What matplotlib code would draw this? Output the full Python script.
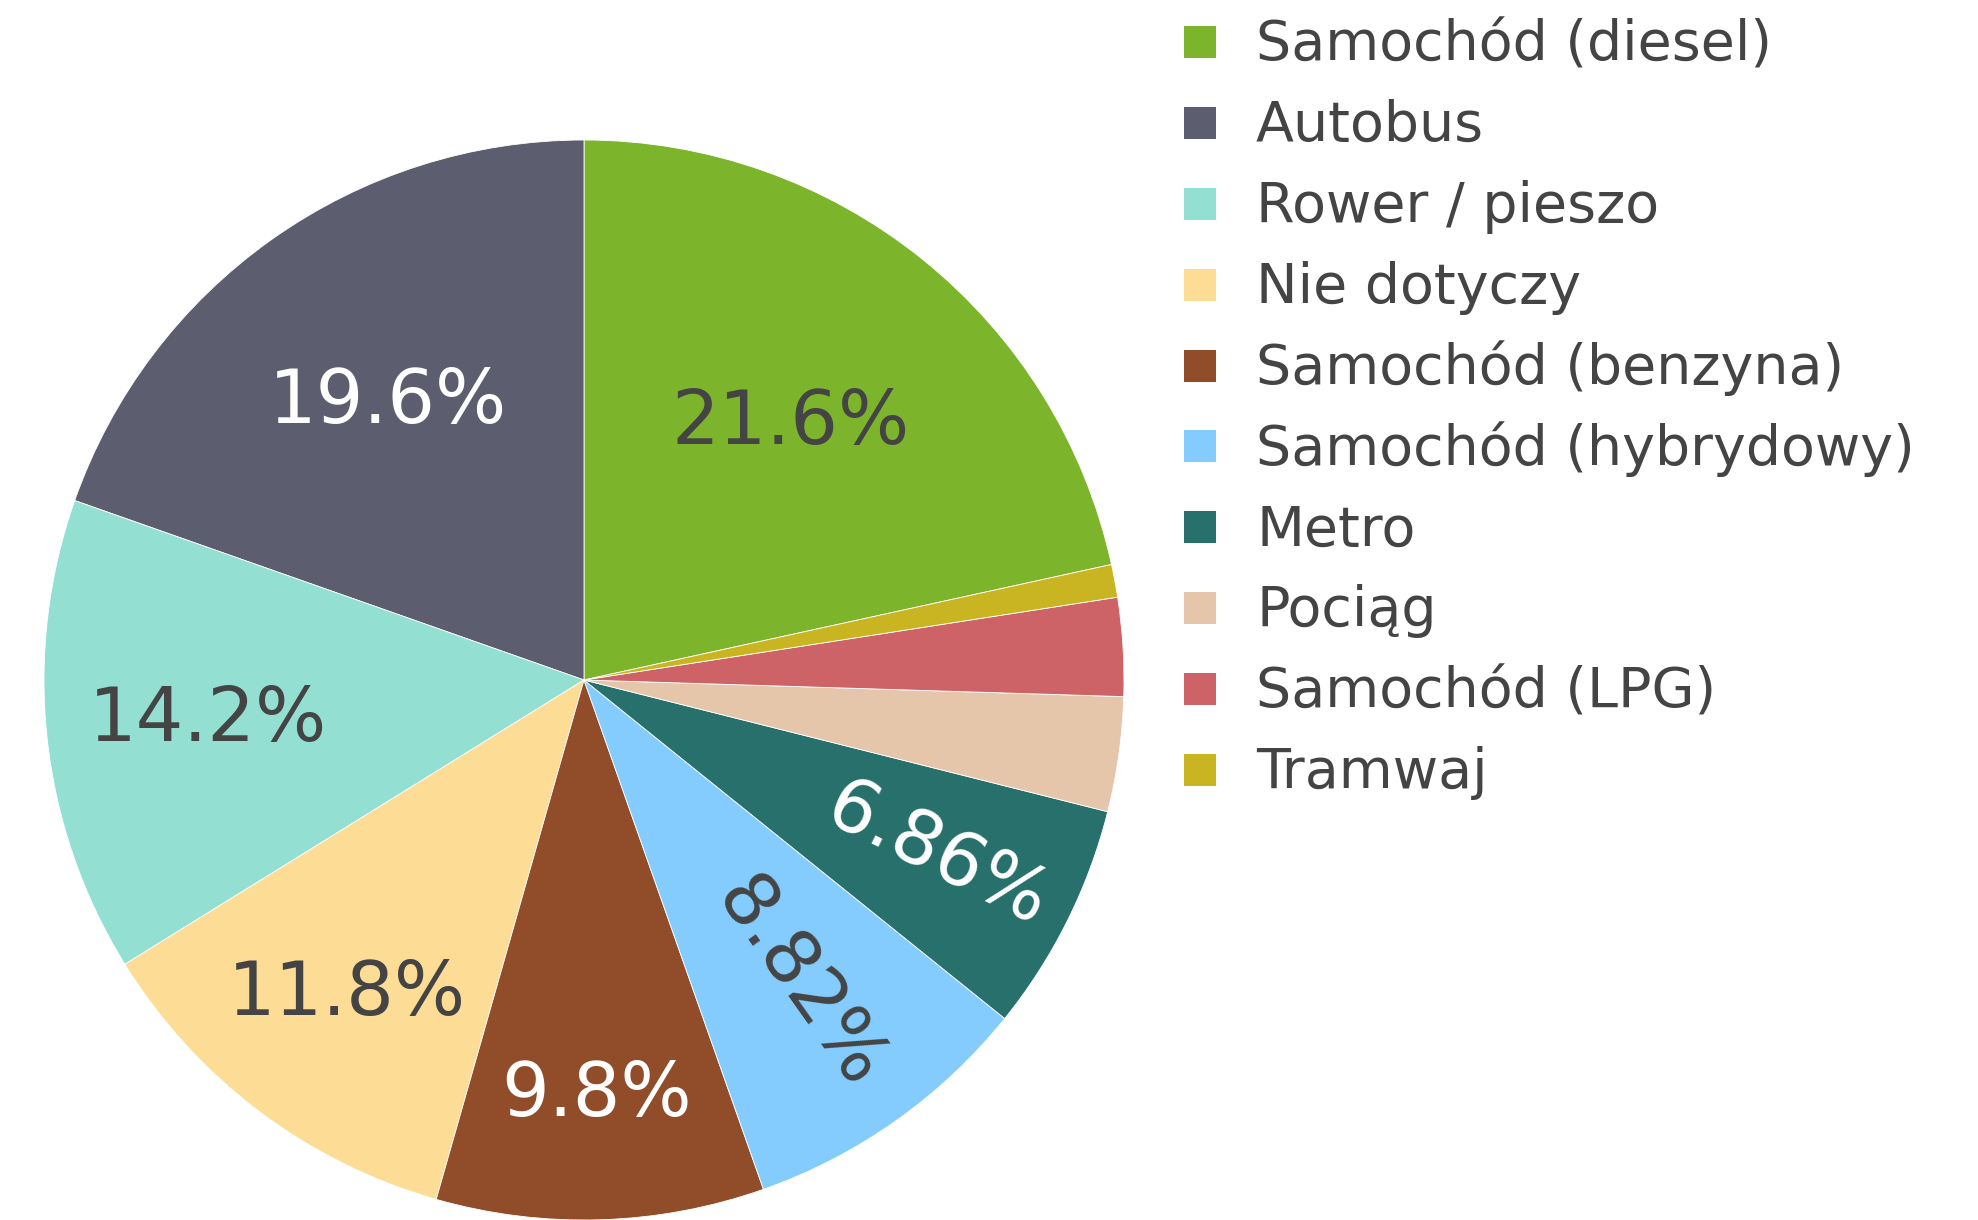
import matplotlib
matplotlib.use("Agg")
import matplotlib.pyplot as plt
from matplotlib.patches import Rectangle
import numpy as np

# survey answers (counts), in legend order
labels = ["Samochód (diesel)", "Autobus", "Rower / pieszo", "Nie dotyczy",
          "Samochód (benzyna)", "Samochód (hybrydowy)", "Metro", "Pociąg",
          "Samochód (LPG)", "Tramwaj"]
counts = [44, 40, 29, 24, 20, 18, 14, 7, 6, 2]
colors = ["#7cb52c", "#5c5d6e", "#93e0d3", "#fddc95", "#914d29",
          "#84ccfe", "#27706b", "#e5c6ab", "#ce6367", "#c9b421"]

# label styling per slice: radial distance, text colour, radial rotation?
label_dist = [0.61, 0.63, 0.70, 0.73, 0.77, 0.69, 0.73, 0, 0, 0]
label_color = ["#444444", "white", "#444444", "#444444", "white",
               "#444444", "white", None, None, None]
label_radial = [False, False, False, False, False, True, True, False, False, False]

W, H = 1978, 1220
fig = plt.figure(figsize=(W / 100, H / 100), dpi=100)

cx, cy, r = 584, 680, 540
ax = fig.add_axes([(cx - r) / W, (H - cy - r) / H, 2 * r / W, 2 * r / H])

total = sum(counts)
start = 90 - 360 * counts[0] / total
wedges, _ = ax.pie(counts, colors=colors, startangle=start, counterclock=True,
                   radius=1, wedgeprops=dict(linewidth=0.6, edgecolor="white"))
ax.set_xlim(-1, 1)
ax.set_ylim(-1, 1)
ax.set_aspect("equal")
ax.axis("off")

for w, n, d, c, rad in zip(wedges, counts, label_dist, label_color, label_radial):
    if c is None:
        continue
    pct = 100 * n / total
    txt = f"{pct:.3g}%"
    mid = np.deg2rad((w.theta1 + w.theta2) / 2)
    x, y = d * np.cos(mid), d * np.sin(mid)
    rot = np.rad2deg(mid) if rad else 0
    if rot > 90 and rad:
        rot -= 360
    ax.text(x, y, txt, ha="center", va="center", fontsize=54, color=c,
            rotation=rot, rotation_mode="anchor")

# legend
leg_x_box = 1184
leg_x_txt = 1256
leg_y0 = 42
leg_dy = 80.9
box = 32
for i, (lab, col) in enumerate(zip(labels, colors)):
    yc = leg_y0 + i * leg_dy
    fig.patches.append(Rectangle((leg_x_box / W, (H - yc - box / 2) / H),
                                 box / W, box / H, transform=fig.transFigure,
                                 facecolor=col, edgecolor="none"))
    fig.text(leg_x_txt / W, (H - yc - 3) / H, lab, fontsize=40, color="#444444",
             ha="left", va="center")

fig.savefig("out.png", dpi=100)
